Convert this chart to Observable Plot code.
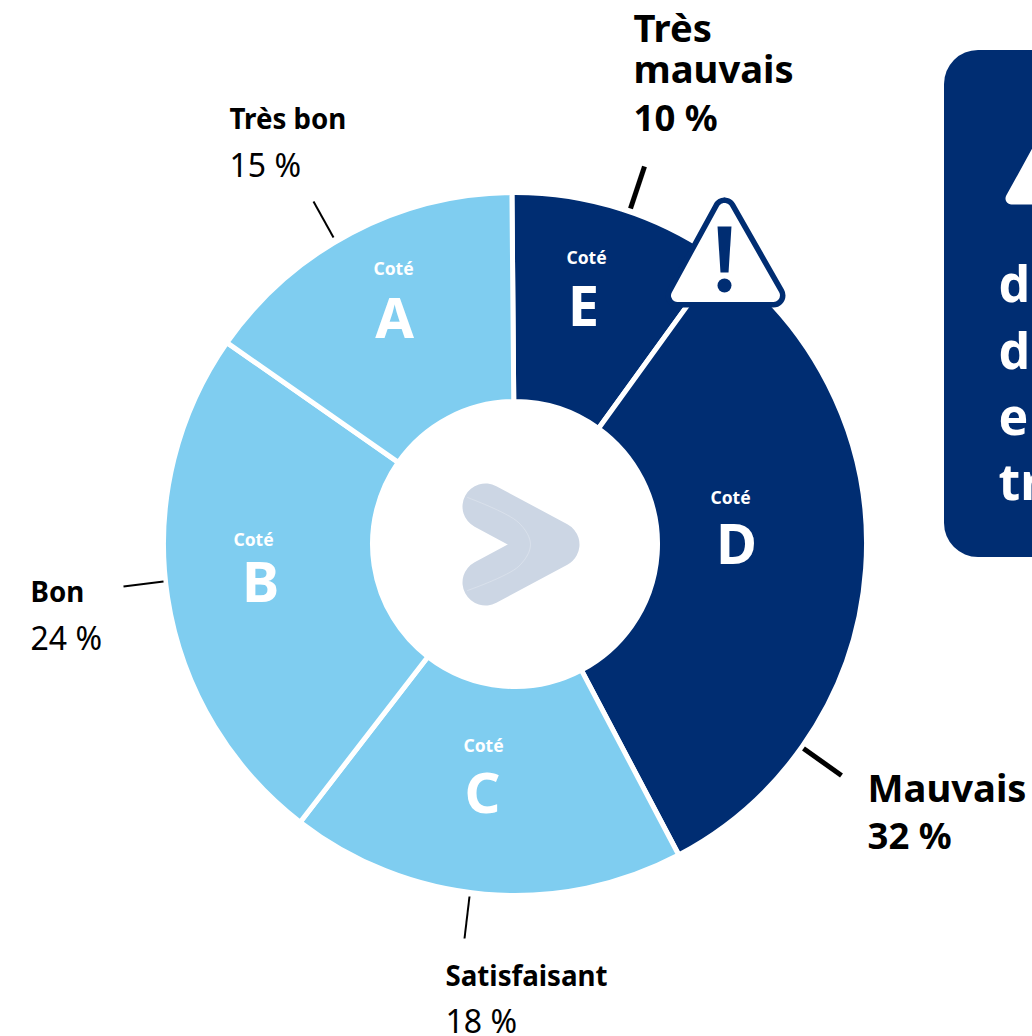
<!DOCTYPE html>
<html lang="fr">
<head>
<meta charset="utf-8">
<script src="https://cdn.jsdelivr.net/npm/d3@7"></script>
<script src="https://cdn.jsdelivr.net/npm/@observablehq/plot@0.6"></script>
<style>html,body{margin:0;padding:0;background:#fff;overflow:hidden}svg{display:block}</style>
</head>
<body>
<div id="chart"></div>
<script>
const grades = ["E", "D", "C", "B", "A"];
const ratings = ["Très mauvais", "Mauvais", "Satisfaisant", "Bon", "Très bon"];
const shares = [10, 32, 18, 24, 15];
const prefix = "Coté";
const boxLetters = ["d", "d", "e", "tr"];

const navy = "#002d72", sky = "#7fcdf0", pale = "#ccd6e4";
const colors = [navy, navy, sky, sky, sky];
const center = {x: 515, y: 544};

// layout tables (pixel space)
const leaders = [
  {x1: 630, y1: 208, x2: 644, y2: 166, w: 5},
  {x1: 803, y1: 748, x2: 841, y2: 775, w: 5},
  {x1: 469, y1: 896, x2: 464, y2: 938, w: 2},
  {x1: 163, y1: 581, x2: 123, y2: 586, w: 2},
  {x1: 333, y1: 237, x2: 313, y2: 201, w: 2}
];
const ratingPos = [
  {x: 633, y: 82, size: 38.2, valueSize: 36.5, text: "Très\nmauvais", value: 130, vw: 700},
  {x: 867, y: 801, size: 38.2, valueSize: 36.5, value: 848, vw: 700},
  {x: 445, y: 985, size: 27.7, value: 1032, vw: 400},
  {x: 30, y: 601, size: 27.7, value: 649, vw: 400},
  {x: 229, y: 128, size: 27.7, value: 176, vw: 400}
];
const gradePos = [
  {cx: 586, cy: 258, lx: 583, ly: 325},
  {cx: 730, cy: 498, lx: 736, ly: 563},
  {cx: 483, cy: 746, lx: 482, ly: 812},
  {cx: 253, cy: 540, lx: 260, ly: 601},
  {cx: 393, cy: 269, lx: 394, ly: 337}
];
const rows = grades.map((g, i) => ({
  grade: g, rating: ratings[i], share: shares[i], color: colors[i],
  ...gradePos[i], ...ratingPos[i]
}));

const tilt = -0.5 * Math.PI / 180;
const pie = d3.pie().sort(null).startAngle(tilt).endAngle(2 * Math.PI + tilt).value(d => d.share)(rows);
function donut(index, {x, y}) {
  const arc = d3.arc().innerRadius(142.5).outerRadius(351.5);
  const g = d3.create("svg:g").attr("transform", `translate(${x(center.x)},${y(center.y)})`);
  g.selectAll("path").data(pie).join("path")
    .attr("d", arc)
    .attr("fill", d => d.data.color)
    .attr("stroke", "#fff")
    .attr("stroke-width", 5);
  return g.node();
}

const warn = [[724, 209], [677, 295], [773, 295], [724, 209]];
const bang = [[717, 226], [731, 226], [728, 272], [720, 272]];
const boxWarn = [[1011, 198], [1065, 100], [1119, 198], [1011, 198]];
const chevron = [[485, 506], [556, 544], [485, 582]];
const seam = [[467, 497], [518, 522], [530, 544], [518, 566], [467, 590]];
const px = a => a[0], py = a => a[1];

const font = "'Noto Sans','Open Sans',sans-serif";
const boxBaselines = [301, 368, 434, 499];

const chart = Plot.plot({
  width: 1032, height: 1036, margin: 0,
  x: {domain: [0, 1032], range: [0, 1032], axis: null},
  y: {domain: [0, 1036], range: [0, 1036], axis: null},
  style: {fontFamily: font, background: "#fff", color: "#000"},
  marks: [
    // side panel
    Plot.rect([{x1: 944, x2: 1140, y1: 50, y2: 557}], {x1: "x1", x2: "x2", y1: "y1", y2: "y2", fill: navy, rx: 34}),
    Plot.line(boxWarn, {x: px, y: py, fill: "#fff", stroke: "#fff", strokeWidth: 12, strokeLinejoin: "round"}),
    Plot.text(boxLetters, {
      x: () => 998, y: (d, i) => boxBaselines[i], text: d => d,
      textAnchor: "start", lineAnchor: "bottom", fontSize: 50, fontWeight: 700, fill: "#fff"
    }),
    // donut
    donut,
    // leaders
    Plot.link(leaders, {x1: "x1", y1: "y1", x2: "x2", y2: "y2", stroke: "#000", strokeWidth: d => d.w}),
    // centre logo
    Plot.line(chevron, {x: px, y: py, stroke: pale, strokeWidth: 46, strokeLinecap: "round", strokeLinejoin: "round"}),
    Plot.line(seam, {x: px, y: py, stroke: "#fff", strokeOpacity: 0.35, strokeWidth: 0.7, curve: "catmull-rom"}),
    // rating labels
    Plot.text(rows.filter(r => !r.text), {
      x: "x", y: "y", text: "rating", textAnchor: "start", lineAnchor: "bottom",
      fontSize: d => d.size, fontWeight: 700, fill: "#000"
    }),
    Plot.text(rows.filter(r => r.text), {
      x: "x", y: "y", text: "text", textAnchor: "start", lineAnchor: "bottom", lineHeight: 1.05,
      fontSize: d => d.size, fontWeight: 700, fill: "#000"
    }),
    Plot.text(rows.filter(r => r.vw === 700), {
      x: "x", y: "value", text: d => `${d.share} %`, textAnchor: "start", lineAnchor: "bottom",
      fontSize: d => d.valueSize, fontWeight: 700, fill: "#000"
    }),
    Plot.text(rows.filter(r => r.vw === 400), {
      x: "x", y: "value", text: d => `${d.share} %`, textAnchor: "start", lineAnchor: "bottom",
      fontSize: 32, fontWeight: 400, fill: "#000"
    }),
    // grade labels
    Plot.text(rows, {x: "cx", y: "cy", text: () => prefix, fontSize: 17.5, fontWeight: 700, fill: "#fff"}),
    Plot.text(rows, {x: "lx", y: "ly", text: "grade", textAnchor: "middle", lineAnchor: "bottom", fontSize: 56, fontWeight: 700, fill: "#fff"}),
    // warning sign
    Plot.line(warn, {x: px, y: py, fill: navy, stroke: navy, strokeWidth: 24, strokeLinejoin: "round"}),
    Plot.line(warn, {x: px, y: py, fill: "#fff", stroke: "#fff", strokeWidth: 13, strokeLinejoin: "round"}),
    Plot.line(bang, {x: px, y: py, fill: navy, stroke: "none"}),
    Plot.dot([[724, 285]], {x: px, y: py, r: 7, fill: navy})
  ]
});
document.getElementById("chart").append(chart);
</script>
</body>
</html>
